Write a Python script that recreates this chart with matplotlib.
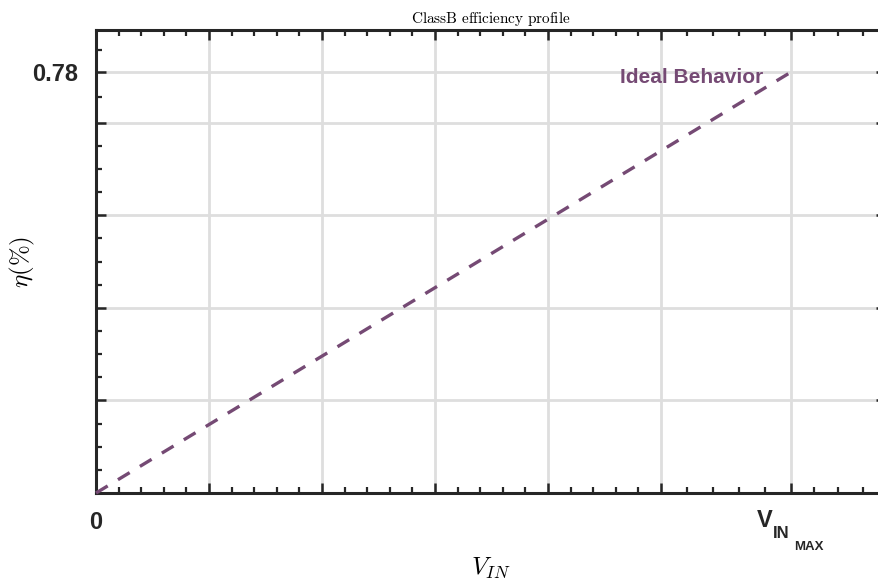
import matplotlib
matplotlib.use('Agg')
import matplotlib.pyplot as plt

# data (V_IN normalised to V_IN_MAX)
vin = [0.0, 1.0]
eta = [0.0, 0.78]

x_major = [0.0, 0.1626, 0.3252, 0.4878, 0.6504, 0.8129, 1.0]
x_labels = ['0', '', '', '', '', '', '']
x_minor = [0.0325, 0.0650, 0.0976, 0.1301,
           0.1951, 0.2276, 0.2601, 0.2927,
           0.3577, 0.3902, 0.4227, 0.4553,
           0.5203, 0.5528, 0.5853, 0.6179,
           0.6829, 0.7154, 0.7479, 0.7804,
           0.8499, 0.8873, 0.9247, 0.9626,
           1.0335, 1.0681, 1.1040]
xlim = (0, 1.1367)
vmax = 1.0

y_major = [0.0, 0.1716, 0.3432, 0.5148, 0.6864, 0.78]
y_labels = ['', '', '', '', '', '0.78']
y_minor = [0.0429, 0.0858, 0.1287,
           0.2145, 0.2574, 0.3003,
           0.3861, 0.4290, 0.4719,
           0.5577, 0.6006, 0.6435,
           0.7337, 0.8208]
ylim = (0, 0.858)

purple = '#754a74'
dark = '#262626'
sans = 'Liberation Sans'

fig = plt.figure(figsize=(8.79, 5.85), dpi=100)
ax = fig.add_axes([96 / 879, 92 / 585, 790 / 879, 463 / 585])

ax.plot(vin, eta, color=purple, lw=2.4, linestyle=(0, (4.1, 3.6)), clip_on=False, zorder=3)
ax.text(0.9597, 0.7708, 'Ideal Behavior', color=purple, fontsize=15, fontweight='bold',
        family=sans, ha='right', va='center')

ax.set_xlim(*xlim)
ax.set_ylim(*ylim)
ax.set_xticks(x_major)
ax.set_xticklabels(x_labels, fontsize=17, fontweight='bold', family=sans, color=dark)
ax.set_xticks(x_minor, minor=True)
ax.set_yticks(y_major)
ax.set_yticklabels(y_labels, fontsize=17, fontweight='bold', family=sans, color=dark)
ax.set_yticks(y_minor, minor=True)

# V_IN_MAX tick label, built from pieces so the subscripts drop like the original
for txt, size, dx, dy in [('V', 17, -24.5, -24.5), ('IN', 12, -13, -32.4), ('MAX', 9.5, 2.2, -40.7)]:
    ax.annotate(txt, xy=(vmax, 0), xycoords=('data', 'axes fraction'), xytext=(dx, dy),
                textcoords='offset points', ha='left', va='baseline', fontsize=size,
                fontweight='bold', family=sans, color=dark, annotation_clip=False)

ax.grid(True, which='major', color='#dedede', lw=2)
ax.set_axisbelow(True)

for s in ax.spines.values():
    s.set_linewidth(2.2)
    s.set_color(dark)

ax.tick_params(which='both', direction='in', top=True, right=True, color=dark)
ax.tick_params(which='major', length=7, width=1.8, pad=13)
ax.tick_params(which='minor', length=4, width=1.6)

t = ax.set_title(r'$\mathrm{ClassB\ efficiency\ profile}$', fontsize=11, pad=5)
t.set_math_fontfamily('cm')
xl = ax.set_xlabel(r'$V_{IN}$', fontsize=18)
xl.set_math_fontfamily('cm')
ax.xaxis.set_label_coords(0.5, -0.135)
yl = ax.set_ylabel(r'$\eta(\%)$', fontsize=18)
yl.set_math_fontfamily('cm')
ax.yaxis.set_label_coords(-0.075, 0.5)

fig.savefig('out.png', dpi=100)
